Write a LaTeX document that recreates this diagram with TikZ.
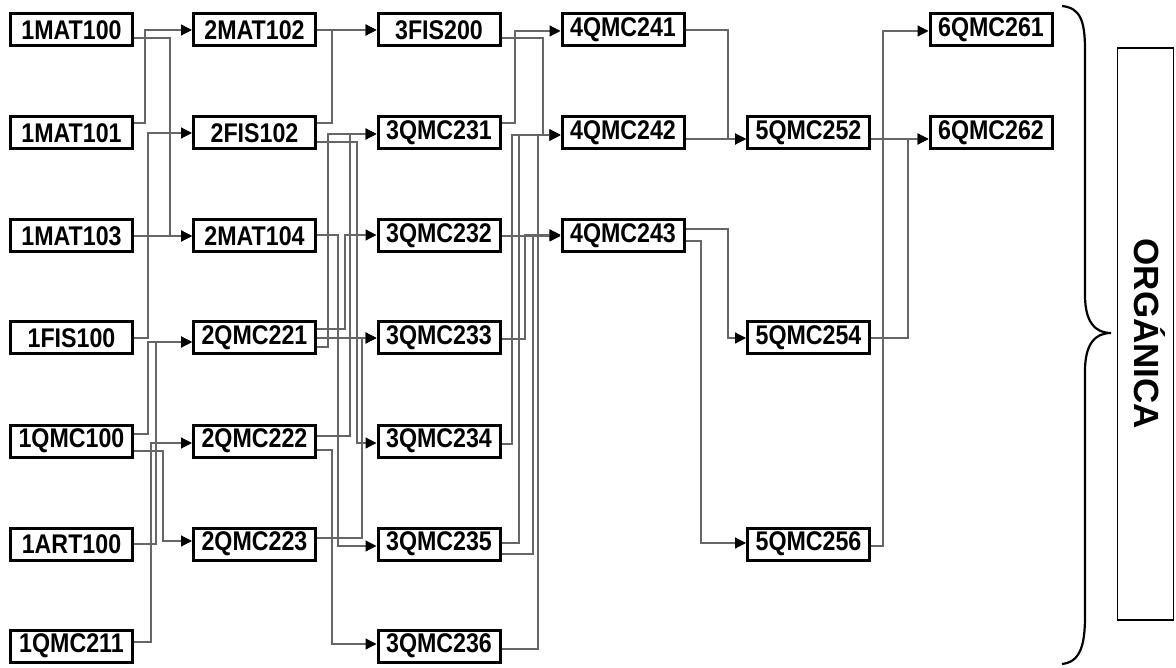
\documentclass[tikz,border=0pt]{standalone}
\usepackage{fontspec}
\newfontfamily\boxfont[FakeStretch=0.86]{Liberation Sans}
\newfontfamily\orgfont{Liberation Sans}
\usetikzlibrary{arrows.meta,calc}
\tikzset{
  course/.style={draw=black, line width=3pt, fill=white, minimum width=122pt, minimum height=32pt,
    inner sep=0pt, font=\boxfont\bfseries\fontsize{27}{27}\selectfont},
  conn/.style={draw=black!60, line width=1.2pt},
  arr/.style={conn, -{Triangle[length=11pt,width=11pt,fill=black,color=black]}},
}
\newcommand{\cn}[5]{%
  \draw[arr] let \p1=($(#1.east)+(0,#2)$), \p2=($(#4.west)+(0,#5)$) in
    (\p1) -- (#3,\y1) -- (#3,\y2) -- (\p2);}
\begin{document}
\begin{tikzpicture}[x=1pt,y=-1pt]
\useasboundingbox (0,0) rectangle (1176,668);
% column 1
\node[course] (m100) at (71.5,30) {1MAT100};
\node[course] (m101) at (71.5,133) {1MAT101};
\node[course] (m103) at (71.5,236) {1MAT103};
\node[course] (f100) at (71.5,338) {1FIS100};
\node[course] (q100) at (71.5,441) {1QMC100};
\node[course] (a100) at (71.5,544) {1ART100};
\node[course] (q211) at (71.5,646) {1QMC211};
% column 2
\node[course] (m102) at (254.5,30) {2MAT102};
\node[course] (f102) at (254.5,133) {2FIS102};
\node[course] (m104) at (254.5,236) {2MAT104};
\node[course] (q221) at (254.5,338) {2QMC221};
\node[course] (q222) at (254.5,441) {2QMC222};
\node[course] (q223) at (254.5,544) {2QMC223};
% column 3
\node[course] (f200) at (439,30) {3FIS200};
\node[course] (q231) at (439,133) {3QMC231};
\node[course] (q232) at (439,236) {3QMC232};
\node[course] (q233) at (439,338) {3QMC233};
\node[course] (q234) at (439,441) {3QMC234};
\node[course] (q235) at (439,544) {3QMC235};
\node[course] (q236) at (439,646) {3QMC236};
% column 4
\node[course] (q241) at (623,30) {4QMC241};
\node[course] (q242) at (623,133) {4QMC242};
\node[course] (q243) at (623,236) {4QMC243};
% column 5
\node[course] (q252) at (808.5,133) {5QMC252};
\node[course] (q254) at (808.5,338) {5QMC254};
\node[course] (q256) at (808.5,544) {5QMC256};
% column 6
\node[course] (q261) at (991,30) {6QMC261};
\node[course] (q262) at (991,133) {6QMC262};

% 1 -> 2
\cn{m100}{8}{170}{m104}{0}
\cn{m101}{-10}{145}{m102}{0}
\draw[arr] (m103.east) -- (m104.west);
\cn{f100}{0}{148}{f102}{0}
\cn{q100}{-7}{148}{q221}{4}
\cn{a100}{0}{156}{q221}{4}
\cn{q100}{10}{163}{q223}{-3}
\cn{q211}{-4}{151}{q222}{2}
% 2 -> 3
\draw[arr] (m102.east) -- (f200.west);
\cn{f102}{-10}{332}{f200}{0}
\cn{f102}{9}{357}{q234}{2}
\cn{m104}{-1}{338}{q235}{2}
\cn{q221}{-9}{345}{q232}{-1}
\draw[arr] (q221.east) -- (q233.west);
\cn{q221}{9}{328}{q231}{1}
\cn{q222}{-5}{350}{q231}{1}
\cn{q222}{9}{332}{q236}{-2}
\cn{q223}{-6}{362}{q233}{0}
% 3 -> 4
\cn{f200}{8}{543}{q242}{2}
\cn{q231}{-10}{515}{q241}{1}
\draw[arr] (q232.east) -- (q243.west);
\cn{q233}{1}{525}{q243}{-1}
\cn{q234}{3}{512}{q242}{2}
\cn{q235}{-1}{519}{q242}{2}
\cn{q235}{10}{533}{q243}{-1}
\cn{q236}{3}{538}{q242}{2}
% 4 -> 5
\cn{q241}{0}{728}{q252}{6}
\draw[arr] ($(q242.east)+(0,6)$) -- ($(q252.west)+(0,6)$);
\cn{q243}{-7}{728}{q254}{0}
\cn{q243}{5}{701}{q256}{-1}
% 5 -> 6
\draw[arr] ($(q252.east)+(0,6)$) -- ($(q262.west)+(0,6)$);
\cn{q254}{0}{908}{q262}{6}
\cn{q256}{2}{883}{q261}{1}

% brace
\draw[line width=2.2pt] (1062,6) .. controls (1080,8) and (1085,20) .. (1085,50)
  -- (1085,295) .. controls (1085,322) and (1095,333) .. (1111,333)
  .. controls (1095,333) and (1085,344) .. (1085,371)
  -- (1085,616) .. controls (1085,646) and (1080,662) .. (1062,664);
% box
\node[draw=black, line width=1.2pt, minimum width=56pt, minimum height=572pt, inner sep=0pt] (orgbox) at (1145.5,334) {};
\node[rotate=-90, font=\orgfont\bfseries\fontsize{35}{35}\selectfont, inner sep=0pt] (orgtext) at ($(orgbox.center)+(4,0)$) {ORGÁNICA};
\end{tikzpicture}
\end{document}
